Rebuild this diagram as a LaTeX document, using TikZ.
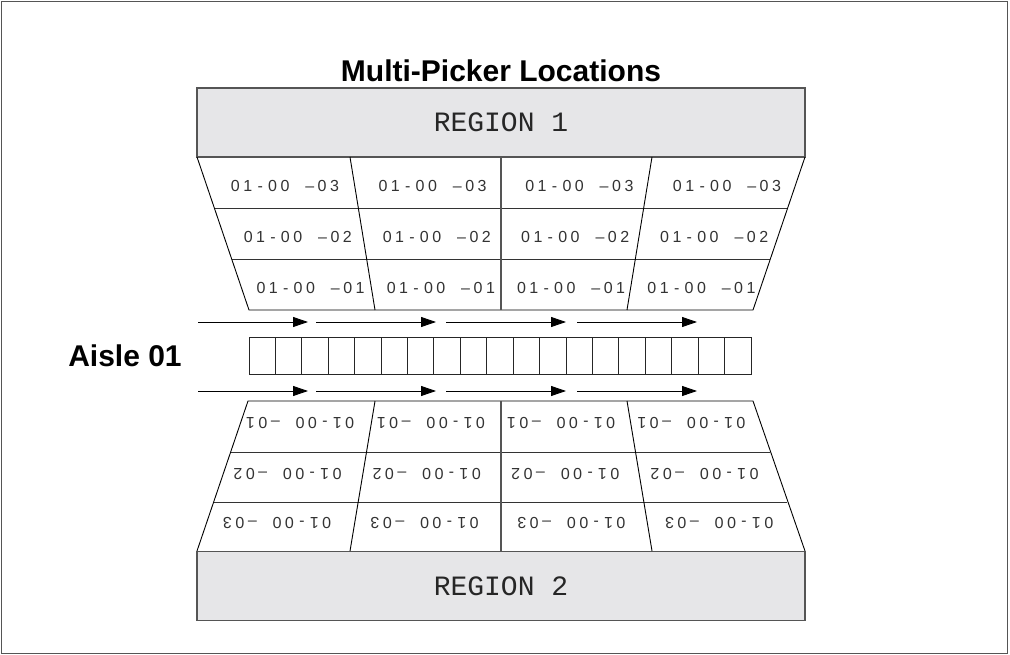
\documentclass[tikz,border=0pt]{standalone}
\usepackage{fontspec}
\setmainfont{Liberation Sans}
\newfontfamily\regionfont{Liberation Mono}
\usetikzlibrary{arrows.meta}

\definecolor{regionfill}{RGB}{230,230,232}
\definecolor{edgegray}{RGB}{85,85,85}

% location codes are set on a fixed character pitch
\newcommand{\lch}[1]{\makebox[12.4pt]{#1}}
% one storage location; the middle digit is left blank
\newcommand{\loc}[1]{\lch0\lch1\lch-\lch0\lch0\lch{}\lch{--}\lch0\lch{#1}}
% region captions sit a little below the middle of their box
\newcommand{\regionlabel}[1]{\raisebox{-4pt}{#1}}

\tikzset{
  frame/.style={draw=edgegray, line width=1.2pt},
  titletext/.style={font=\bfseries\fontsize{30}{34}\selectfont, inner sep=0pt},
  aisletext/.style={font=\bfseries\fontsize{30}{34}\selectfont, inner sep=0pt},
  regionbox/.style={draw=edgegray, fill=regionfill, line width=1.2pt,
    minimum width=608pt, minimum height=69pt, inner sep=0pt, outer sep=0pt,
    font=\regionfont\fontsize{28}{31}\selectfont, text=black!85},
  rack/.style={draw=black, line width=0.9pt},
  shelf/.style={draw=black!80, line width=0.9pt},
  divider/.style={draw=edgegray, line width=1.1pt},
  celltext/.style={font=\fontsize{16}{19}\selectfont, inner sep=0pt, text=black!80},
  beltcell/.style={draw=black!85, line width=0.9pt, minimum width=26.42pt,
    minimum height=37pt, inner sep=0pt, outer sep=0pt},
  flow/.style={draw=black, line width=0.9pt, -{Triangle[length=15pt,width=10pt]}},
}

\begin{document}
\begin{tikzpicture}[x=1pt,y=-1pt]
\useasboundingbox (0,0) rectangle (1010,655);
\fill[white] (0,0) rectangle (1010,655);
\draw[frame] (1.5,1.5) rectangle (1007.5,653.5);

% headings
\node[titletext] (title) at (501,71) {Multi-Picker Locations};
\node[aisletext] (aisle) at (125,356) {Aisle 01};

% pick regions
\node[regionbox] (region1) at (501,122.5) {\regionlabel{REGION 1}};
\node[regionbox] (region2) at (501,586) {\regionlabel{REGION 2}};

% upper rack (faces down towards the aisle)
\draw[shelf] (214.3,208) -- (787.7,208);
\draw[shelf] (231.7,259) -- (770.3,259);
\draw[rack] (197,157) -- (249,310) -- (753,310) -- (805,157);
\draw[rack] (350,157) -- (375,310);
\draw[rack] (652,157) -- (627,310);
\draw[divider] (501,157) -- (501,310);

% lower rack (mirrored, faces up towards the aisle)
\draw[shelf] (231,452) -- (770,452);
\draw[shelf] (214.3,502) -- (786.7,502);
\draw[rack] (197,551) -- (248,401) -- (753,401) -- (805,551);
\draw[rack] (375,401) -- (350,551);
\draw[rack] (627,401) -- (652,551);
\draw[divider] (501,401) -- (501,551);

% upper rack labels
\node[celltext] (u13) at (285,185.5) {\loc3};
\node[celltext] (u23) at (432.6,185.5) {\loc3};
\node[celltext] (u33) at (579.4,185.5) {\loc3};
\node[celltext] (u43) at (727,185.5) {\loc3};
\node[celltext] (u12) at (297.8,236.5) {\loc2};
\node[celltext] (u22) at (436.8,236.5) {\loc2};
\node[celltext] (u32) at (575.2,236.5) {\loc2};
\node[celltext] (u42) at (714.2,236.5) {\loc2};
\node[celltext] (u11) at (310.6,287.5) {\loc1};
\node[celltext] (u21) at (440.9,287.5) {\loc1};
\node[celltext] (u31) at (571.1,287.5) {\loc1};
\node[celltext] (u41) at (701.5,287.5) {\loc1};

% lower rack labels, upside down
\node[celltext, rotate=180] (l11) at (300.1,423) {\loc1};
\node[celltext, rotate=180] (l21) at (430.9,423) {\loc1};
\node[celltext, rotate=180] (l31) at (561.1,423) {\loc1};
\node[celltext, rotate=180] (l41) at (691.4,423) {\loc1};
\node[celltext, rotate=180] (l12) at (287.5,474) {\loc2};
\node[celltext, rotate=180] (l22) at (426.7,474) {\loc2};
\node[celltext, rotate=180] (l32) at (565.3,474) {\loc2};
\node[celltext, rotate=180] (l42) at (704.5,474) {\loc2};
\node[celltext, rotate=180] (l13) at (277.1,523.5) {\loc3};
\node[celltext, rotate=180] (l23) at (424.6,523.5) {\loc3};
\node[celltext, rotate=180] (l33) at (571.4,523.5) {\loc3};
\node[celltext, rotate=180] (l43) at (719.2,523.5) {\loc3};

% conveyor belt down the aisle
\foreach \i in {0,...,18}
  \node[beltcell] (belt\i) at ({262.21+26.42*\i},355.5) {};

% travel direction on both sides of the belt
\foreach \row/\yy in {t/322,b/391} {
  \coordinate (\row s1) at (198,\yy); \coordinate (\row e1) at (308,\yy);
  \coordinate (\row s2) at (316,\yy); \coordinate (\row e2) at (436,\yy);
  \coordinate (\row s3) at (446,\yy); \coordinate (\row e3) at (566,\yy);
  \coordinate (\row s4) at (577,\yy); \coordinate (\row e4) at (697,\yy);
  \foreach \k in {1,...,4}
    \draw[flow] (\row s\k) -- (\row e\k);
}
\end{tikzpicture}
\end{document}
